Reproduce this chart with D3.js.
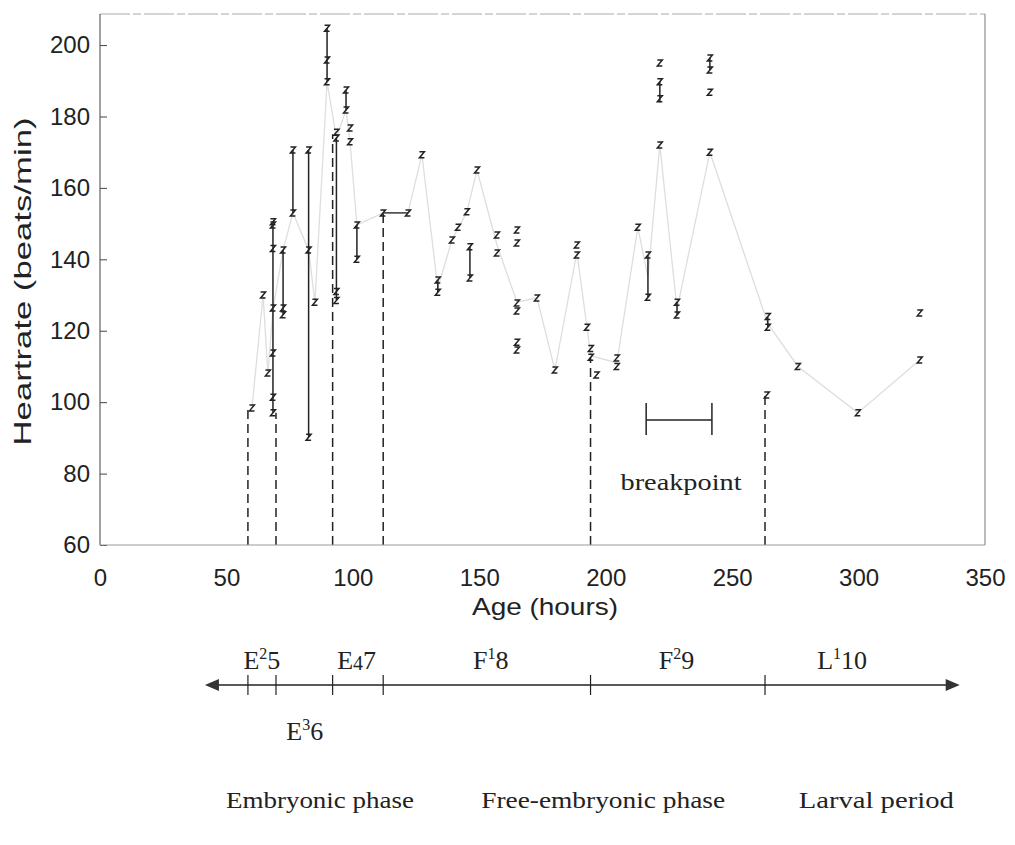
<!DOCTYPE html>
<html>
<head>
<meta charset="utf-8">
<script src="https://cdn.jsdelivr.net/npm/d3@7"></script>
<style>
  html, body { margin: 0; padding: 0; background: #fff; }
  svg { display: block; }
</style>
</head>
<body>
<svg id="chart" width="1015" height="845"></svg>
<script>
// ---------------- data ----------------
const xTicks = [0, 50, 100, 150, 200, 250, 300, 350];
const yTicks = [60, 80, 100, 120, 140, 160, 180, 200];

// measurement times (hours) and the heart rates recorded at each
const groupTimes = [60.1, 64.5, 66.4, 68.4, 72.4, 76.3, 82.5, 85, 89.8, 93.5, 97.3, 98.9, 101.6,
  111.9, 121.8, 127.3, 133.6, 139.2, 141.6, 145.1, 146.3, 149.1, 157, 164.9, 172.8, 179.9,
  188.6, 192.6, 194.1, 196.4, 204.4, 212.7, 216.7, 221.4, 228.2, 241.2, 263.7, 264.1, 276, 299.7, 324.2];
const groupValues = [
  [98.4], [130], [108.2], [150.5, 149.6, 143, 126.4, 113.8, 101.4, 97], [142.6, 126.4, 124.5],
  [170.6, 153], [170.6, 142.6, 90.2], [128], [204.7, 195.8, 189.7], [175.6, 174, 131, 128.5],
  [187.4, 181.8], [176.8, 172.9], [149.6, 140],
  [153], [153], [169.3], [134.2, 130.8], [145.4], [149], [153.3], [143.5, 134.8], [165],
  [146.8, 141.8], [148.2, 144.6, 127.8, 125.5, 116.8, 114.6], [129.2], [109],
  [144, 141.2], [121], [115, 112.6], [107.6], [112.4, 110], [149], [141.2, 129.4],
  [195, 189.7, 185, 172], [128, 124.4], [196.4, 193, 186.8, 170], [102], [124, 121], [110], [97], [125, 111.8]
];
// solid vertical spans [time, high, low]
const solidSpans = [
  [68.4, 150.5, 97], [72.4, 142.6, 124.5], [76.3, 170.6, 153], [82.5, 170.6, 90.2],
  [89.8, 204.7, 189.7], [93.5, 174, 128.5], [97.3, 187.4, 181.8], [101.6, 149.6, 140],
  [146.3, 143.5, 134.8], [216.7, 141.2, 129.4], [221.4, 189.7, 184], [228.2, 128, 124.4],
  [241.2, 196.4, 193], [133.6, 134.2, 130.8], [264.1, 124, 121]
];
// solid links between points [t1, v1, t2, v2]
const solidLinks = [[111.9, 153, 121.8, 153]];
// faint connecting line through the records
const trendTimes = [60.1, 64.5, 66.4, 68.4, 72.4, 76.3, 82.5, 85, 89.8, 93.5, 97.3, 98.9, 101.6, 111.9,
  121.8, 127.3, 133.6, 139.2, 145.1, 149.1, 157, 164.9, 172.8, 179.9, 188.6, 194.1, 204.4, 212.7,
  216.7, 221.4, 228.2, 241.2, 264.1, 276, 299.7, 324.2];
const trendValues = [98.4, 130, 108, 126, 142.6, 153, 142.6, 128, 189.7, 174, 181.8, 172.9, 149.6, 153,
  153, 169.3, 132, 145.4, 153.3, 165, 144, 128, 129.2, 109, 142, 113, 111, 149,
  135, 172, 126, 170, 122, 110, 97, 111.8];

// stage boundaries (hours) and the heart rate each dashed line reaches
const stageBounds = [58.5, 69.6, 92, 112, 194, 263];
const dashTops = [98.4, 97, 175, 153, 112.6, 102];

const breakpointRange = [216, 242];
const breakpointLevel = 95;

const stageLabels = [
  {t: 64, row: 0, parts: [["E", ""], ["2", "sup"], ["5", ""]]},
  {t: 81, row: 1, parts: [["E", ""], ["3", "sup"], ["6", ""]]},
  {t: 101.5, row: 0, parts: [["E", ""], ["4", "sub"], ["7", ""]]},
  {t: 154.5, row: 0, parts: [["F", ""], ["1", "sup"], ["8", ""]]},
  {t: 228, row: 0, parts: [["F", ""], ["2", "sup"], ["9", ""]]},
  {t: 293.5, row: 0, parts: [["L", ""], ["1", "sup"], ["10", ""]]}
];
const phaseLabels = [
  {t: 87, text: "Embryonic phase", len: 188},
  {t: 199, text: "Free-embryonic phase", len: 244},
  {t: 307, text: "Larval period", len: 155}
];
const timelineRange = [41.5, 340];

// ---------------- drawing ----------------
const svg = d3.select("#chart");
const L = 100, R = 985, T = 14, B = 545;
const x = d3.scaleLinear().domain([0, 350]).range([L, R]);
const y = d3.scaleLinear().domain([60, 208.7]).range([B, T]);

const sans = "'Liberation Sans', Arial, Helvetica, sans-serif";
const serif = "'Liberation Serif', 'Times New Roman', serif";

// frame
svg.append("line").attr("x1", L).attr("x2", R).attr("y1", T).attr("y2", T)
  .attr("stroke", "#aaa").attr("stroke-width", 1).attr("stroke-dasharray", "30,3,8,3");
svg.append("line").attr("x1", R).attr("x2", R).attr("y1", T).attr("y2", B)
  .attr("stroke", "#777").attr("stroke-width", 1);

// faint trend line
const trend = trendTimes.map((t, i) => [t, trendValues[i]]);
svg.append("path").datum(trend)
  .attr("d", d3.line().x(d => x(d[0])).y(d => y(d[1])))
  .attr("fill", "none").attr("stroke", "#dedede").attr("stroke-width", 1.3);

// dashed stage lines
svg.selectAll(".stage").data(stageBounds).join("line")
  .attr("x1", d => x(d)).attr("x2", d => x(d))
  .attr("y1", B).attr("y2", (d, i) => y(dashTops[i]))
  .attr("stroke", "#222").attr("stroke-width", 1.5).attr("stroke-dasharray", "9,5");

// solid spans
svg.selectAll(".span").data(solidSpans).join("line")
  .attr("x1", d => x(d[0])).attr("x2", d => x(d[0]))
  .attr("y1", d => y(d[1])).attr("y2", d => y(d[2]))
  .attr("stroke", "#222").attr("stroke-width", 1.5);
svg.selectAll(".link").data(solidLinks).join("line")
  .attr("x1", d => x(d[0])).attr("y1", d => y(d[1]))
  .attr("x2", d => x(d[2])).attr("y2", d => y(d[3]))
  .attr("stroke", "#222").attr("stroke-width", 1.3);

// markers
const pts = [];
groupTimes.forEach((t, i) => groupValues[i].forEach(v => pts.push([t, v])));
svg.selectAll(".pt").data(pts).join("path")
  .attr("transform", d => `translate(${x(d[0])},${y(d[1])})`)
  .attr("d", "M-2.5,-3 H2.5 L-2.5,3 H2.5")
  .attr("fill", "none").attr("stroke", "#222").attr("stroke-width", 1.5);

// axes
const yAxis = svg.append("g").attr("transform", `translate(${L},0)`)
  .call(d3.axisLeft(y).tickValues(yTicks).tickSizeInner(-7).tickSizeOuter(0).tickPadding(10));
yAxis.select(".domain").attr("stroke", "#444").attr("d", `M0,${B}V${T}`);
yAxis.selectAll(".tick line").attr("stroke", "#444");
yAxis.selectAll("text").attr("font-family", sans).attr("font-size", 24).attr("fill", "#222");

const xAxis = svg.append("g").attr("transform", `translate(0,${B})`)
  .call(d3.axisBottom(x).tickValues(xTicks).tickSize(0).tickPadding(24));
xAxis.select(".domain").attr("stroke", "#999").attr("d", `M${L},0H${R}`);
xAxis.selectAll("text").attr("font-family", sans).attr("font-size", 24).attr("fill", "#222");

svg.append("text").attr("transform", `translate(31,${(T + B) / 2 + 2}) rotate(-90)`)
  .attr("text-anchor", "middle").attr("font-family", sans).attr("font-size", 24)
  .attr("fill", "#222").attr("textLength", 328).attr("lengthAdjust", "spacingAndGlyphs")
  .text("Heartrate (beats/min)");
svg.append("text").attr("x", 545).attr("y", 615)
  .attr("text-anchor", "middle").attr("font-family", sans).attr("font-size", 24)
  .attr("fill", "#222").attr("textLength", 146).attr("lengthAdjust", "spacingAndGlyphs")
  .text("Age (hours)");

// breakpoint bracket
const by = y(breakpointLevel);
const bg = svg.append("g").attr("stroke", "#222").attr("stroke-width", 1.5);
bg.append("line").attr("x1", x(breakpointRange[0])).attr("x2", x(breakpointRange[1])).attr("y1", by).attr("y2", by);
breakpointRange.forEach(t => bg.append("line").attr("x1", x(t)).attr("x2", x(t)).attr("y1", by - 17).attr("y2", by + 15));
svg.append("text").attr("x", x((breakpointRange[0] + breakpointRange[1]) / 2) + 2).attr("y", 490)
  .attr("text-anchor", "middle").attr("font-family", serif).attr("font-size", 23)
  .attr("fill", "#222").attr("textLength", 121).attr("lengthAdjust", "spacingAndGlyphs")
  .text("breakpoint");

// timeline
const ty = 685;
const tl = svg.append("g");
tl.append("line").attr("x1", x(timelineRange[0]) + 10).attr("x2", x(timelineRange[1]) - 10)
  .attr("y1", ty).attr("y2", ty).attr("stroke", "#222").attr("stroke-width", 1.6);
const xl = x(timelineRange[0]), xr = x(timelineRange[1]);
tl.append("path").attr("d", `M${xl},${ty} L${xl + 14},${ty - 6} L${xl + 14},${ty + 6} Z`).attr("fill", "#333");
tl.append("path").attr("d", `M${xr},${ty} L${xr - 14},${ty - 6} L${xr - 14},${ty + 6} Z`).attr("fill", "#333");
tl.selectAll(".tk").data(stageBounds).join("line")
  .attr("x1", d => x(d)).attr("x2", d => x(d)).attr("y1", ty - 10).attr("y2", ty + 10)
  .attr("stroke", "#222").attr("stroke-width", 1.2);

stageLabels.forEach(s => {
  const txt = svg.append("text").attr("x", x(s.t)).attr("y", s.row === 0 ? 669 : 740)
    .attr("text-anchor", "middle").attr("font-family", serif).attr("font-size", 26).attr("fill", "#222");
  s.parts.forEach((p, k) => {
    const ts = txt.append("tspan").text(p[0]);
    if (p[1] === "sup") ts.attr("font-size", 16).attr("dy", -10);
    else if (p[1] === "sub") ts.attr("font-size", 20).attr("dy", 1);
    else if (k === 2 && s.parts[1][1] === "sup") ts.attr("dy", 10);
    else if (k === 2) ts.attr("dy", -1);
  });
});

svg.selectAll(".phase").data(phaseLabels).join("text")
  .attr("x", d => x(d.t)).attr("y", 808).attr("text-anchor", "middle")
  .attr("font-family", serif).attr("font-size", 23).attr("fill", "#222")
  .attr("textLength", d => d.len).attr("lengthAdjust", "spacingAndGlyphs")
  .text(d => d.text);
</script>
</body>
</html>
